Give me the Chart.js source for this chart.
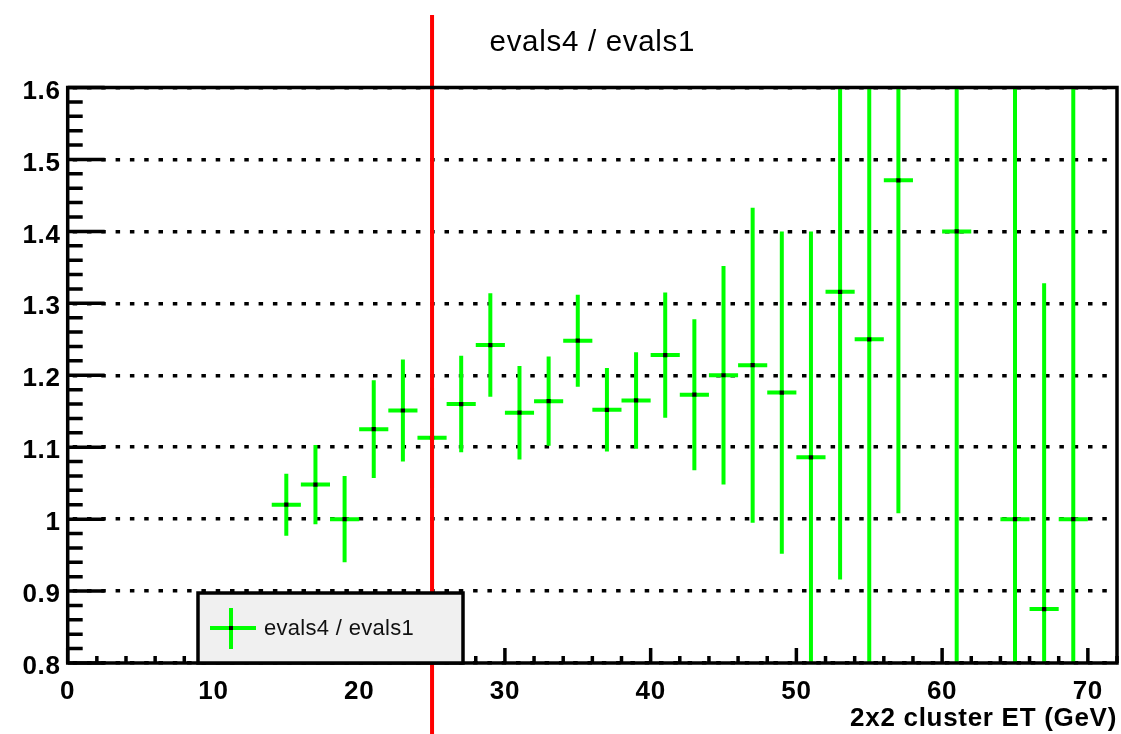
<!DOCTYPE html>
<html>
<head>
<meta charset="utf-8">
<script src="https://cdn.jsdelivr.net/npm/chart.js@4.4.0/dist/chart.umd.min.js"></script>
<style>
  html, body { margin: 0; padding: 0; background: #fff; }
</style>
</head>
<body>
<canvas id="myChart" width="1121" height="734"></canvas>
<script>
// ratio evals4 / evals1 per 2 GeV bin of 2x2 cluster ET
var binCenters = [15, 17, 19, 21, 23, 25, 27, 29, 31, 33, 35, 37, 39, 41, 43, 45, 47, 49, 51, 53, 55, 57, 61, 65, 67, 69];
var ratio = [1.020, 1.048, 1.000, 1.125, 1.151, 1.113, 1.160, 1.242, 1.148, 1.164, 1.248, 1.152, 1.165, 1.228, 1.173, 1.200, 1.214, 1.176, 1.086, 1.316, 1.250, 1.471, 1.400, 1.000, 0.875, 1.000];
var ratioErr = [0.043, 0.055, 0.060, 0.068, 0.071, 0.070, 0.067, 0.072, 0.065, 0.062, 0.064, 0.058, 0.067, 0.087, 0.105, 0.152, 0.219, 0.224, 0.314, 0.400, 0.500, 0.463, 0.700, 1.000, 0.453, 1.000];
var binHalfWidth = 1;
var etCut = 25;
var seriesName = 'evals4 / evals1';

var FONT = '"Liberation Sans", Arial, Helvetica, sans-serif';
var GREEN = '#00ff00';

var points = binCenters.map(function (x, i) { return { x: x, y: ratio[i] }; });

// green crosses: bin width horizontally, error vertically
var errorBars = {
    id: 'errorBars',
    beforeDatasetsDraw: function (chart) {
        var ctx = chart.ctx, xs = chart.scales.x, ys = chart.scales.y, a = chart.chartArea;
        ctx.save();
        ctx.beginPath();
        ctx.rect(a.left, a.top, a.right - a.left, a.bottom - a.top);
        ctx.clip();
        ctx.strokeStyle = GREEN;
        ctx.lineWidth = 4;
        for (var i = 0; i < binCenters.length; i++) {
            var px = xs.getPixelForValue(binCenters[i]);
            var py = ys.getPixelForValue(ratio[i]);
            ctx.beginPath();
            ctx.moveTo(xs.getPixelForValue(binCenters[i] - binHalfWidth), py);
            ctx.lineTo(xs.getPixelForValue(binCenters[i] + binHalfWidth), py);
            ctx.moveTo(px, ys.getPixelForValue(ratio[i] + ratioErr[i]));
            ctx.lineTo(px, ys.getPixelForValue(ratio[i] - ratioErr[i]));
            ctx.stroke();
        }
        ctx.restore();
    }
};

// red cut line at ET = 25 GeV
var cutLine = {
    id: 'cutLine',
    afterDatasetsDraw: function (chart) {
        var ctx = chart.ctx;
        var x = chart.scales.x.getPixelForValue(etCut);
        ctx.save();
        ctx.strokeStyle = '#ff0000';
        ctx.lineWidth = 4;
        ctx.beginPath();
        ctx.moveTo(x, 15);
        ctx.lineTo(x, chart.height);
        ctx.stroke();
        ctx.restore();
    }
};

// slightly wider text spacing for all labels
var textSpacing = {
    id: 'textSpacing',
    beforeDraw: function (chart) {
        chart.ctx.letterSpacing = '0.7px';
    }
};

// frame, inward ticks and legend box
var frame = {
    id: 'frame',
    afterDraw: function (chart) {
        var ctx = chart.ctx, xs = chart.scales.x, ys = chart.scales.y, a = chart.chartArea;
        var v, p, len;
        ctx.save();
        ctx.strokeStyle = '#000';
        ctx.lineWidth = 3.5;
        ctx.beginPath();
        for (v = 0; v <= 72.001; v += 2) {
            p = xs.getPixelForValue(v);
            len = Math.abs(v % 10) < 0.001 ? 15 : 7;
            ctx.moveTo(p, a.bottom);
            ctx.lineTo(p, a.bottom - len);
        }
        for (var k = 0; k <= 40; k++) {
            v = 0.8 + k * 0.02;
            p = ys.getPixelForValue(v);
            len = k % 5 === 0 ? 37 : 15;
            ctx.moveTo(a.left, p);
            ctx.lineTo(a.left + len, p);
        }
        ctx.stroke();
        ctx.strokeRect(a.left, a.top, a.right - a.left, a.bottom - a.top);

        // legend
        var bx = 198, by = 593, bw = 265, bh = a.bottom - by;
        ctx.fillStyle = '#f0f0f0';
        ctx.fillRect(bx, by, bw, bh);
        ctx.strokeRect(bx, by, bw, bh);
        var cx = 231, cy = 628;
        ctx.strokeStyle = GREEN;
        ctx.lineWidth = 4;
        ctx.beginPath();
        ctx.moveTo(210, cy);
        ctx.lineTo(256, cy);
        ctx.moveTo(cx, 608);
        ctx.lineTo(cx, 649);
        ctx.stroke();
        ctx.fillStyle = '#000';
        ctx.fillRect(cx - 2, cy - 2, 4, 4);
        ctx.letterSpacing = '0.3px';
        ctx.font = '22px ' + FONT;
        ctx.textAlign = 'left';
        ctx.textBaseline = 'middle';
        ctx.fillStyle = '#111';
        ctx.fillText(seriesName, 264, cy + 1);
        ctx.restore();
    }
};

var myChart = new Chart(document.getElementById('myChart').getContext('2d'), {
    type: 'scatter',
    data: {
        datasets: [{
            label: seriesName,
            data: points,
            backgroundColor: '#000',
            borderColor: '#000',
            pointStyle: 'rect',
            pointRadius: 3,
            borderWidth: 0
        }]
    },
    options: {
        responsive: false,
        animation: false,
        devicePixelRatio: 1,
        layout: { padding: { left: 0, right: 3.3, top: 0, bottom: 0 } },
        plugins: {
            legend: { display: false },
            tooltip: { enabled: false },
            title: {
                display: true,
                fullSize: false,
                text: seriesName,
                color: '#000',
                font: { family: FONT, size: 29.5, weight: 'normal' },
                padding: { top: 25.5, bottom: 26.6 }
            }
        },
        scales: {
            x: {
                type: 'linear',
                min: 0,
                max: 72,
                grid: { display: false },
                border: { display: false },
                ticks: {
                    stepSize: 10,
                    includeBounds: false,
                    autoSkip: false,
                    maxRotation: 0,
                    padding: 5,
                    color: '#000',
                    font: { family: FONT, size: 26, weight: 'bold' }
                },
                title: {
                    display: true,
                    text: '2x2 cluster ET (GeV)',
                    align: 'end',
                    color: '#000',
                    font: { family: FONT, size: 26, weight: 'bold' },
                    padding: { top: 0, bottom: 0 }
                },
                afterFit: function (scale) { scale.height = 71; }
            },
            y: {
                min: 0.8,
                max: 1.6,
                z: 1,
                grid: { color: '#000', lineWidth: 3.5, drawTicks: false },
                border: { display: false, dash: [4.5, 9.8], dashOffset: 9.6 },
                ticks: {
                    stepSize: 0.1,
                    padding: 7,
                    labelOffset: 4,
                    color: '#000',
                    font: { family: FONT, size: 26, weight: 'bold' },
                    callback: function (v) { return String(+v.toFixed(1)); }
                },
                afterFit: function (scale) { scale.width = 67.7; }
            }
        }
    },
    plugins: [textSpacing, errorBars, cutLine, frame]
});
</script>
</body>
</html>
